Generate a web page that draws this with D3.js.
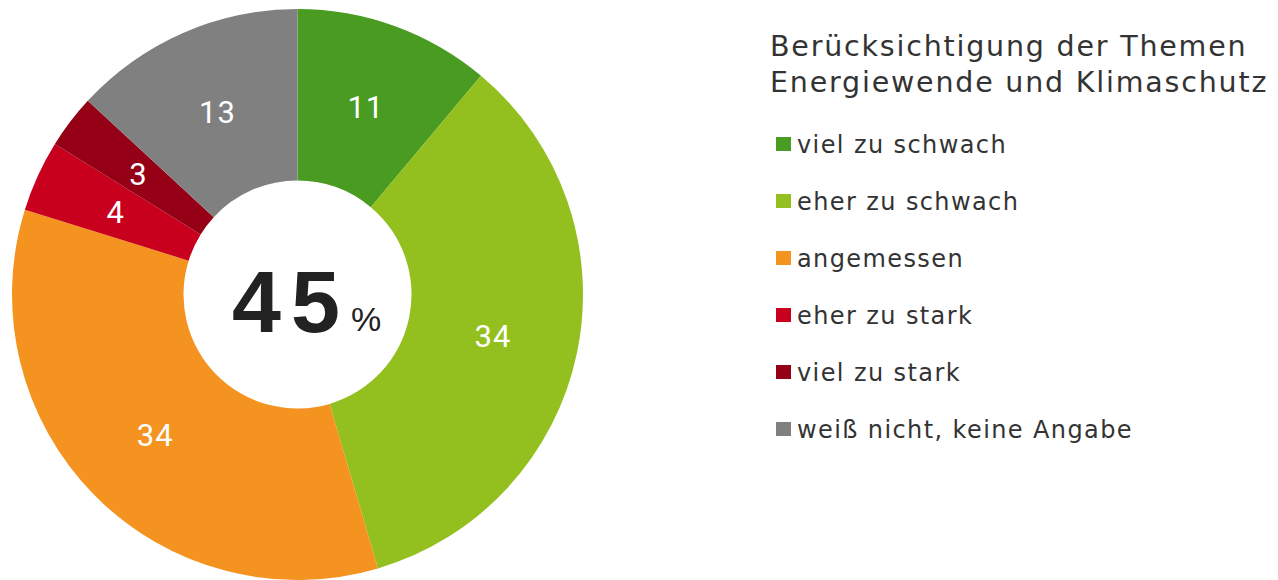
<!DOCTYPE html>
<html>
<head>
<meta charset="utf-8">
<script src="https://cdn.jsdelivr.net/npm/d3@7"></script>
<style>
  body { margin: 0; background: #fff; }
  svg { display: block; }
</style>
</head>
<body>
<div id="chart"></div>
<script>
// Berücksichtigung der Themen Energiewende und Klimaschutz
const categories = ["viel zu schwach", "eher zu schwach", "angemessen", "eher zu stark", "viel zu stark", "weiß nicht, keine Angabe"];
const values = [11, 34, 34, 4, 3, 13];
const colors = ["#4a9b21", "#93c01e", "#f59320", "#c8001d", "#950016", "#808080"];
const titleLines = ["Berücksichtigung der Themen", "Energiewende und Klimaschutz"];
const centerValue = "45";

const width = 1278, height = 580;
const cx = 297.5, cy = 294.5;
const outerR = 285.5, innerR = 114;

const svg = d3.select("#chart").append("svg")
    .attr("width", width)
    .attr("height", height);

const pie = d3.pie().sort(null).value(d => d);
const arc = d3.arc().innerRadius(innerR).outerRadius(outerR);
const arcs = pie(values);

const g = svg.append("g").attr("transform", `translate(${cx},${cy})`);

g.selectAll("path")
    .data(arcs)
    .enter().append("path")
    .attr("d", arc)
    .attr("fill", (d, i) => colors[i]);

g.selectAll("text.val")
    .data(arcs)
    .enter().append("text")
    .attr("class", "val")
    .attr("transform", d => `translate(${arc.centroid(d)})`)
    .attr("text-anchor", "middle")
    .attr("dy", "0.36em")
    .style("font-family", "Roboto, sans-serif")
    .style("font-size", "31px")
    .style("letter-spacing", "1px")
    .style("fill", "#fff")
    .text(d => d.data);

// centre number
g.append("text")
    .attr("x", -65.5)
    .attr("y", 37.5)
    .style("font-family", "'Liberation Sans', Arial, sans-serif")
    .style("font-size", "88px")
    .style("font-weight", "bold")
    .style("letter-spacing", "10px")
    .style("fill", "#222")
    .text(centerValue);

g.append("text")
    .attr("x", 53.5)
    .attr("y", 36.5)
    .style("font-family", "'Liberation Sans', Arial, sans-serif")
    .style("font-size", "34px")
    .style("fill", "#222")
    .text("%");

// legend
const legend = svg.append("g").attr("transform", "translate(770,0)");

legend.selectAll("text.title")
    .data(titleLines)
    .enter().append("text")
    .attr("class", "title")
    .attr("x", 0)
    .attr("y", (d, i) => 56 + i * 36)
    .style("font-family", "'DejaVu Sans', Verdana, sans-serif")
    .style("font-size", "28.5px")
    .style("letter-spacing", "1.8px")
    .style("fill", "#333")
    .text(d => d);

const item = legend.selectAll("g.item")
    .data(categories)
    .enter().append("g")
    .attr("class", "item")
    .attr("transform", (d, i) => `translate(0,${144 + i * 57})`);

item.append("rect")
    .attr("x", 6)
    .attr("y", -7)
    .attr("width", 15)
    .attr("height", 14)
    .attr("fill", (d, i) => colors[i]);

item.append("text")
    .attr("x", 27)
    .attr("y", 9)
    .style("font-family", "'DejaVu Sans', Verdana, sans-serif")
    .style("font-size", "24px")
    .style("letter-spacing", "1.4px")
    .style("fill", "#333")
    .text(d => d);
</script>
</body>
</html>
